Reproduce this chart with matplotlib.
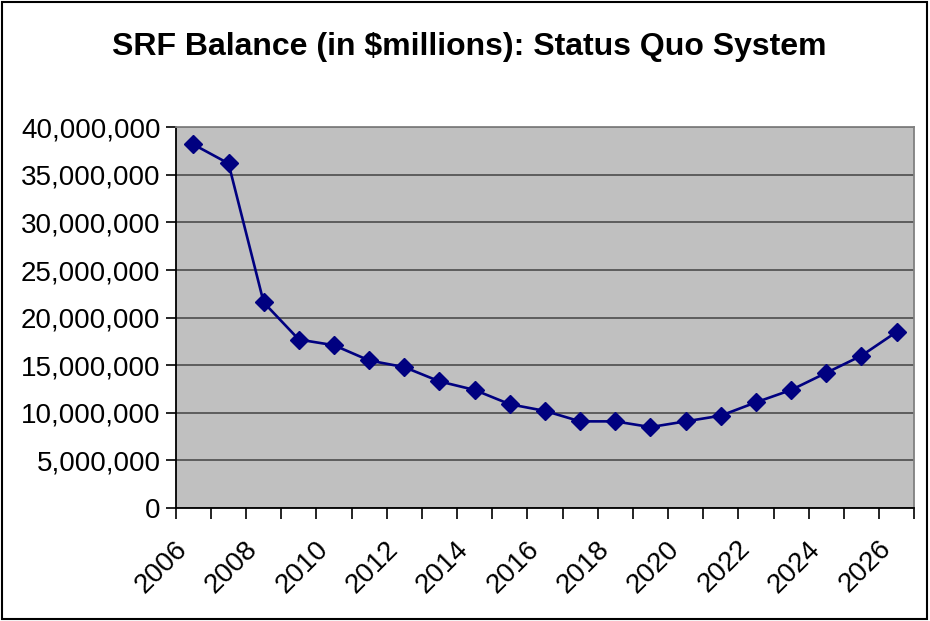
import matplotlib.pyplot as plt
from matplotlib.patches import Rectangle
from matplotlib.ticker import FuncFormatter, FixedLocator
from matplotlib.transforms import ScaledTranslation

plt.rcParams['font.family'] = ['Liberation Sans', 'DejaVu Sans']

# --- data ---
years = list(range(2006, 2027))
balance = [38.2, 36.2, 21.6, 17.7, 17.1, 15.5, 14.8, 13.3, 12.4, 10.9,
           10.2, 9.1, 9.1, 8.5, 9.1, 9.7, 11.1, 12.4, 14.2, 16.0, 18.5]
balance = [b * 1e6 for b in balance]
label_years = [str(y) for y in years[::2]]

fig = plt.figure(figsize=(9.3, 6.21), dpi=100)
ax = fig.add_axes([0.189, 0.182, 0.794, 0.613])

x = list(range(len(years)))
ax.plot(x, balance, color='#000080', linewidth=1.9, marker='D',
        markersize=9, markerfacecolor='#000080', markeredgecolor='#000080',
        zorder=3)

ax.set_facecolor('#c0c0c0')
ax.set_xlim(-0.5, len(years) - 0.5)
ax.set_ylim(0, 40e6)
ax.set_yticks(range(0, 40000001, 5000000))
ax.yaxis.set_major_formatter(FuncFormatter(lambda v, p: f'{int(v):,}'))
ax.grid(axis='y', color='#555555', linewidth=1.3, zorder=1)
ax.set_axisbelow(True)

# category axis: labels at every other category, ticks at boundaries
ax.xaxis.set_major_locator(FixedLocator(x[::2]))
ax.set_xticklabels(label_years, rotation=45, ha='right',
                   rotation_mode='anchor')
ax.xaxis.set_minor_locator(FixedLocator([i - 0.5 for i in range(len(years) + 1)]))
ax.tick_params(axis='x', which='major', length=0, pad=20, labelsize=20)
ax.tick_params(axis='x', which='minor', length=8, width=1.2, color='black')
ax.tick_params(axis='y', length=7, width=1.2, labelsize=20, pad=4)
shift = ScaledTranslation(-0.19, 0, fig.dpi_scale_trans)
for lab in ax.get_xticklabels():
    lab.set_transform(lab.get_transform() + shift)

for side in ['left', 'bottom']:
    ax.spines[side].set_color('black')
    ax.spines[side].set_linewidth(1.3)
for side in ['top', 'right']:
    ax.spines[side].set_color('#808080')
    ax.spines[side].set_linewidth(1.3)

fig.text(0.505, 0.925, 'SRF Balance (in $millions): Status Quo System',
         ha='center', va='center', fontsize=23, fontweight='bold')

fig.patches.append(Rectangle((0.002, 0.003), 0.995, 0.994,
                             transform=fig.transFigure, fill=False,
                             edgecolor='black', linewidth=1.5))

fig.savefig('out.png', dpi=100)
